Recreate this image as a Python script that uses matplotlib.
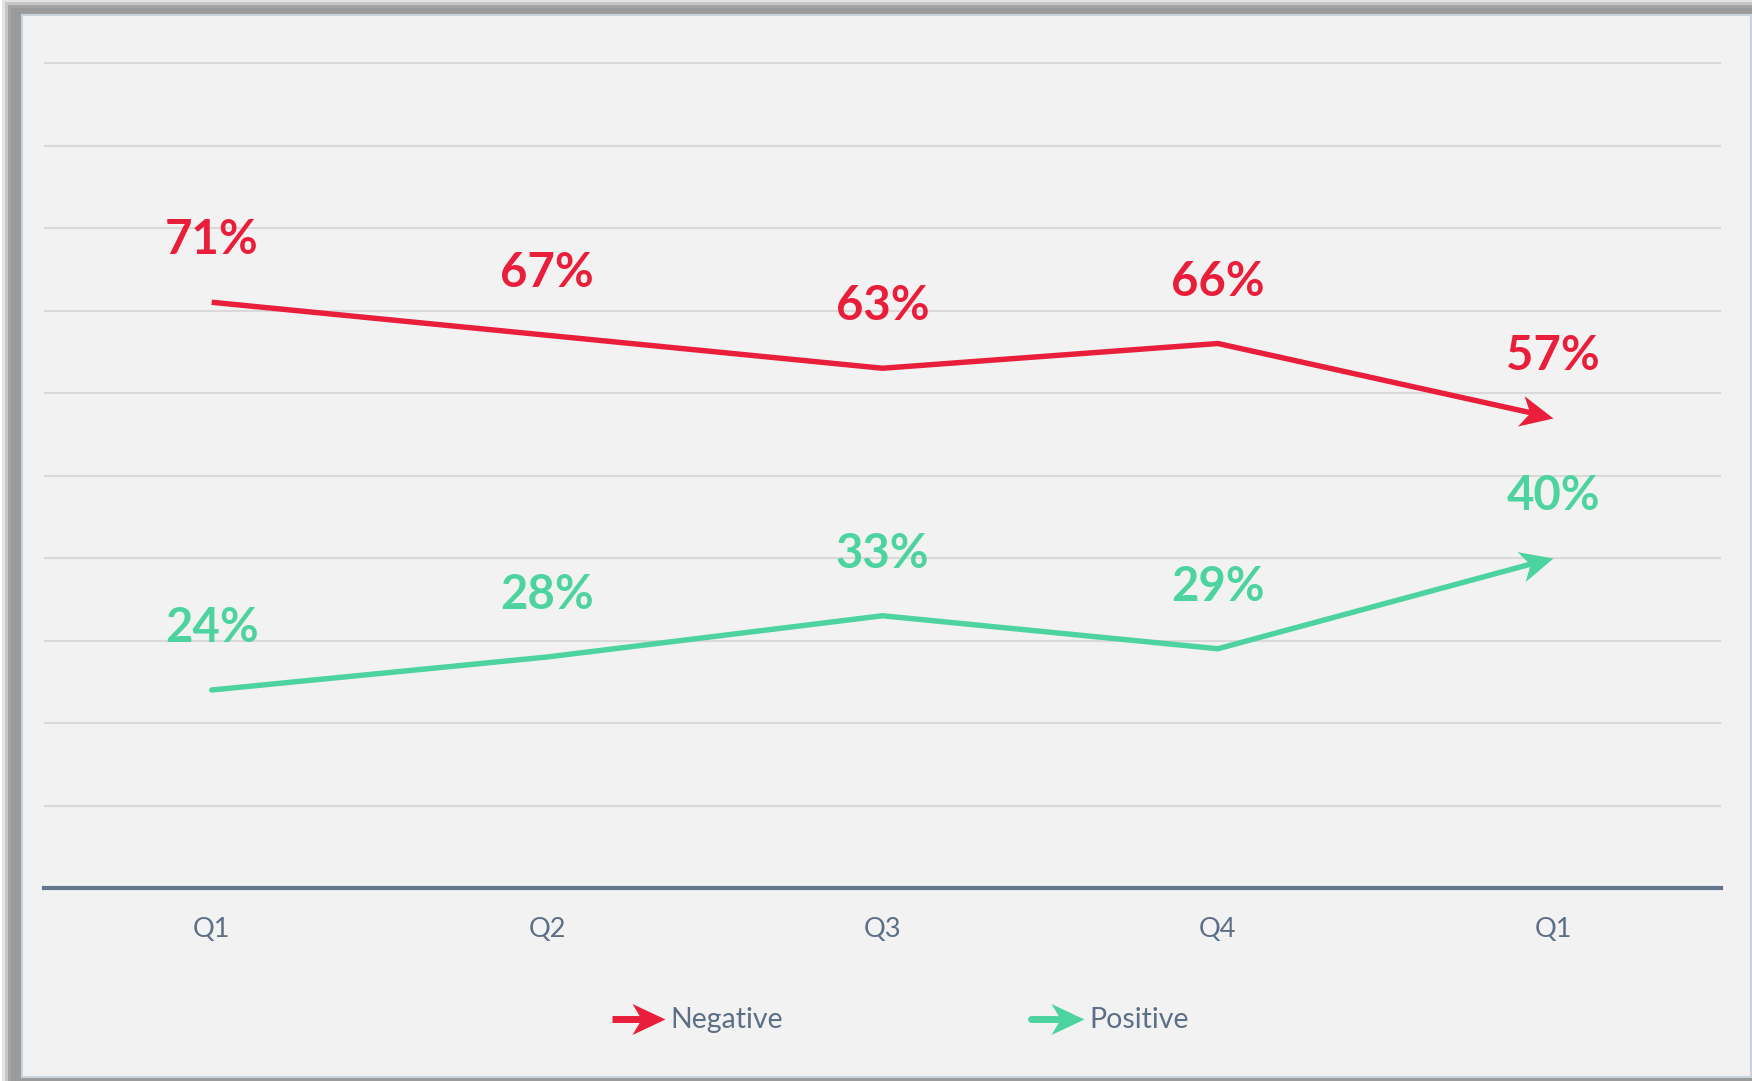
import matplotlib
matplotlib.use("Agg")
import matplotlib.pyplot as plt
import numpy as np
from matplotlib.path import Path
from matplotlib.markers import MarkerStyle
from matplotlib.transforms import Affine2D
from matplotlib.lines import Line2D
from matplotlib.patches import Rectangle

# data
quarters = ["Q1", "Q2", "Q3", "Q4", "Q1"]
negative = [71, 67, 63, 66, 57]
positive = [24, 28, 33, 29, 40]
series_names = ["Negative", "Positive"]

RED = "#e91e3a"
GREEN = "#4dd3a0"
SLATE = "#5b6f86"

plt.rcParams['font.family'] = ['Lato', 'DejaVu Sans']

W, H = 1752, 1081
fig = plt.figure(figsize=(W / 100, H / 100), dpi=100)
fig.patch.set_facecolor("white")


def fx(px):
    return px / W


def fy(py):
    return 1 - py / H


# soft shadow round the panel (left / top / bottom)
for xo, yo, c in [(2, 0, "#e4e4e4"), (5, 2, "#c6c6c6"), (8, 5, "#a4a4a4"), (11, 8, "#9b9b9b")]:
    fig.patches.append(Rectangle((fx(xo), 0), 1 - fx(xo), fy(yo), transform=fig.transFigure,
                                 facecolor=c, edgecolor="none", zorder=-10))
fig.patches.append(Rectangle((fx(22), fy(1077)), 1 - fx(22) - 0.0006, fy(15) - fy(1077),
                             transform=fig.transFigure, facecolor="#f2f2f2",
                             edgecolor="#c9d3de", lw=1.5, zorder=-5))

# axes: 0..100 % mapped to y px 888..63
ytop = 101
ax = fig.add_axes([fx(44), fy(888), fx(1721) - fx(44), (825 / 100 * ytop) / H])
ax.set_facecolor("none")
ax.set_xlim(-0.5, 4.5)
ax.set_ylim(0, ytop)
ax.set_yticks(np.arange(0, 101, 10))
ax.yaxis.grid(True, color="#d9d9d9", lw=1.5)
ax.set_axisbelow(True)
for s in ["top", "left", "right"]:
    ax.spines[s].set_visible(False)
ax.spines["bottom"].set_color("#62758b")
ax.spines["bottom"].set_linewidth(3)
ax.tick_params(axis="y", left=False, labelleft=False)
ax.set_xticks(range(len(quarters)))
ax.set_xticklabels(quarters)
ax.tick_params(axis="x", length=0, pad=21, labelsize=19.5, labelcolor=SLATE)


def arrow_marker(angle):
    verts = [(0, 0), (-1, 0.47), (-0.72, 0), (-1, -0.47), (0, 0)]
    codes = [Path.MOVETO, Path.LINETO, Path.LINETO, Path.LINETO, Path.CLOSEPOLY]
    return MarkerStyle(Path(verts, codes), transform=Affine2D().rotate_deg(angle))


head_px = 33
head_ms = head_px * 72 / 50


def draw_series(vals, color, cap):
    x = np.arange(len(vals), dtype=float)
    y = np.array(vals, dtype=float)
    disp = ax.transData.transform(np.column_stack([x, y]))
    d = disp[-1] - disp[-2]
    ang = np.degrees(np.arctan2(d[1], d[0]))
    unit = d / np.hypot(*d)
    short = disp.copy()
    short[-1] = disp[-1] - unit * 18
    pts = ax.transData.inverted().transform(short)
    ax.plot(pts[:, 0], pts[:, 1], color=color, lw=3.9, solid_capstyle=cap,
            solid_joinstyle="miter", zorder=3)
    ax.plot([x[-1]], [y[-1]], ls="none", marker=arrow_marker(ang), markersize=head_ms,
            color=color, mew=0, zorder=4, clip_on=False)
    for xi, yi in zip(x, y):
        ax.annotate(f"{int(yi)}%", (xi, yi), xytext=(0, 34.5), textcoords="offset points",
                    ha="center", va="baseline", fontsize=34, fontweight="bold", color=color)


draw_series(negative, RED, "butt")
draw_series(positive, GREEN, "round")

# legend drawn by hand: arrow + name
for name, color, x0, cap in [(series_names[0], RED, 612, "butt"),
                             (series_names[1], GREEN, 1031, "round")]:
    tip = x0 + 53
    fig.add_artist(Line2D([fx(x0), fx(tip - 18)], [fy(1019), fy(1019)], transform=fig.transFigure,
                          color=color, lw=5, solid_capstyle=cap))
    fig.add_artist(Line2D([fx(tip)], [fy(1019)], transform=fig.transFigure, ls="none",
                          marker=arrow_marker(0), markersize=head_ms, color=color, mew=0))
    fig.text(fx(tip + 5), fy(1028), name, ha="left", va="baseline", fontsize=20.5, color=SLATE)

fig.savefig("out.png", dpi=100, facecolor=fig.get_facecolor())
